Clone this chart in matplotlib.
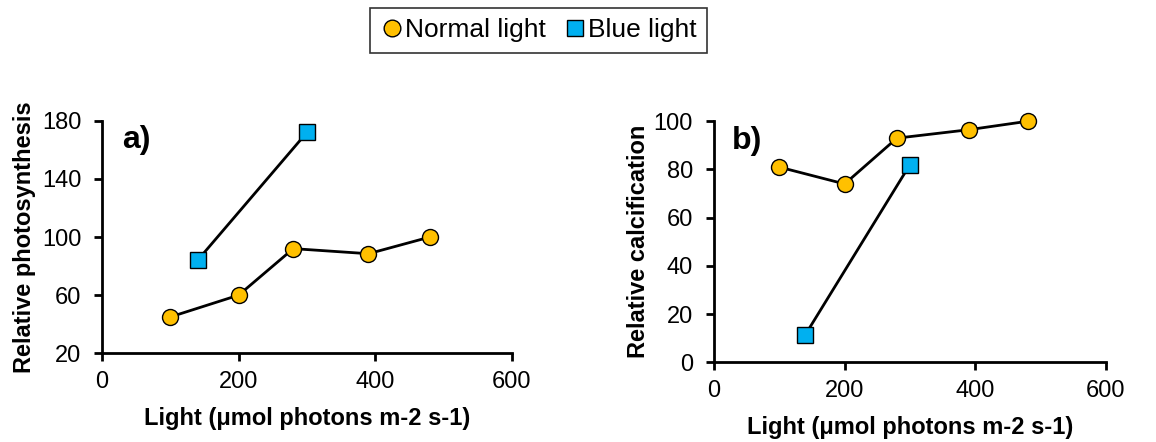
import numpy as np
import matplotlib.pyplot as plt
from matplotlib.lines import Line2D

plt.rcParams['font.family'] = ['Liberation Sans', 'DejaVu Sans']

# data
normal_x = [100, 200, 280, 390, 480]
blue_x = [140, 300]
photo_normal = [45, 60, 92, 88.5, 100]
photo_blue = [84, 172]
calc_normal = [81, 74, 93, 96.5, 100]
calc_blue = [11.5, 82]

yellow = '#FFC000'
cyan = '#00B0F0'

fig = plt.figure(figsize=(11.56, 4.42), dpi=100)
ax1 = fig.add_axes([0.0882, 0.2007, 0.3547, 0.5262])
ax2 = fig.add_axes([0.6176, 0.1803, 0.3391, 0.5453])


def style(ax, ylim, yticks, ylabel, tag, tagpos, ypad):
    for s in ['top', 'right']:
        ax.spines[s].set_visible(False)
    for s in ['left', 'bottom']:
        ax.spines[s].set_linewidth(2)
    ax.set_xlim(0, 600)
    ax.set_ylim(*ylim)
    ax.set_xticks([0, 200, 400, 600])
    ax.set_yticks(yticks)
    ax.tick_params(labelsize=17, width=2, length=6, direction='out')
    ax.tick_params(axis='x', pad=7)
    ax.tick_params(axis='y', pad=9)
    ax.set_xlabel('Light (μmol photons m-2 s-1)', fontsize=17, fontweight='bold', labelpad=10)
    ax.set_ylabel(ylabel, fontsize=17, fontweight='bold', labelpad=ypad)
    ax.text(tagpos[0], tagpos[1], tag, transform=ax.transAxes, fontsize=23,
            fontweight='bold', va='center')


def draw(ax, yn, yb):
    ax.plot(normal_x, yn, color='black', lw=2, marker='o', ms=11.5,
            mfc=yellow, mec='black', mew=1, clip_on=False, zorder=3)
    ax.plot(blue_x, yb, color='black', lw=2, marker='s', ms=12,
            mfc=cyan, mec='black', mew=1, clip_on=False, zorder=3)


draw(ax1, photo_normal, photo_blue)
style(ax1, (20, 180), [20, 60, 100, 140, 180], 'Relative photosynthesis', 'a)', (0.05, 0.915), 4)
draw(ax2, calc_normal, calc_blue)
style(ax2, (0, 100), [0, 20, 40, 60, 80, 100], 'Relative calcification', 'b)', (0.047, 0.92), 3)

handles = [
    Line2D([], [], ls='none', marker='o', ms=12, mfc=yellow, mec='black', mew=1),
    Line2D([], [], ls='none', marker='s', ms=12, mfc=cyan, mec='black', mew=1),
]
leg = fig.legend(handles, ['Normal light', 'Blue light'], loc='center',
                 bbox_to_anchor=(0.466, 0.932), ncol=2, fontsize=19,
                 fancybox=False, edgecolor='black', handlelength=0.8,
                 handletextpad=0.1, columnspacing=0.7, borderpad=0.4)
leg.get_frame().set_linewidth(1.2)

fig.savefig('out.png', dpi=100)
